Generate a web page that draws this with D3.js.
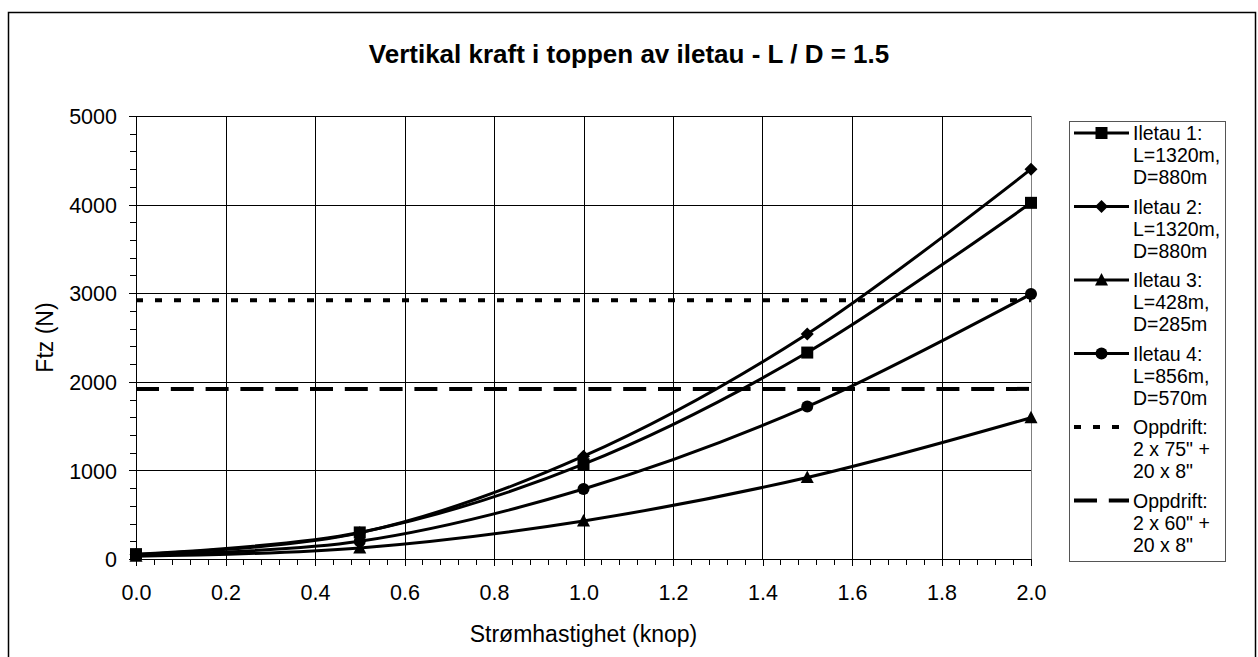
<!DOCTYPE html>
<html><head><meta charset="utf-8">
<script src="https://cdn.jsdelivr.net/npm/d3@7"></script>
<style>
html,body{margin:0;padding:0;background:#fff;}
svg{display:block;font-family:"Liberation Sans",Arial,sans-serif;}
</style></head>
<body>
<svg id="chart" width="1258" height="657"></svg>
<script>
const titleText = "Vertikal kraft i toppen av iletau - L / D = 1.5";
const xTitle = "Strømhastighet (knop)";
const yTitle = "Ftz (N)";
const xValues = [0, 0.5, 1.0, 1.5, 2.0];
const iletau1 = [55, 300, 1070, 2330, 4020];
const iletau2 = [50, 295, 1160, 2540, 4400];
const iletau3 = [30, 125, 430, 920, 1595];
const iletau4 = [45, 200, 790, 1720, 2990];
const oppdriftX = [0, 2.0];
const oppdrift1 = [2920, 2920];
const oppdrift2 = [1920, 1920];
const xTickValues = [0, 0.2, 0.4, 0.6, 0.8, 1.0, 1.2, 1.4, 1.6, 1.8, 2.0];
const yTickValues = [0, 1000, 2000, 3000, 4000, 5000];
const legendLabels = [
  ["Iletau 1:", "L=1320m,", "D=880m"],
  ["Iletau 2:", "L=1320m,", "D=880m"],
  ["Iletau 3:", "L=428m,", "D=285m"],
  ["Iletau 4:", "L=856m,", "D=570m"],
  ["Oppdrift:", "2 x 75\" +", "20 x 8\""],
  ["Oppdrift:", "2 x 60\" +", "20 x 8\""]
];

const svg = d3.select("#chart");
const plot = {left: 136, right: 1031, top: 116, bottom: 559};
const x = d3.scaleLinear().domain([0, 2]).range([plot.left, plot.right]);
const y = d3.scaleLinear().domain([0, 5000]).range([plot.bottom, plot.top]);

// outer frame
svg.append("rect").attr("x", 8.5).attr("y", 12.5).attr("width", 1247).attr("height", 700)
  .attr("fill", "none").attr("stroke", "#000").attr("stroke-width", 1.5);

// title
svg.append("text").attr("x", 629).attr("y", 63).attr("text-anchor", "middle")
  .attr("font-size", 26).attr("font-weight", "bold").text(titleText);

// gridlines
const g = svg.append("g").attr("shape-rendering", "crispEdges");
g.selectAll(".vg").data(xTickValues.slice(1)).join("line")
  .attr("x1", d => Math.round(x(d)) + 0.5).attr("x2", d => Math.round(x(d)) + 0.5)
  .attr("y1", plot.top).attr("y2", plot.bottom).attr("stroke", "#000").attr("stroke-width", 1);
g.selectAll(".hg").data(yTickValues.slice(1)).join("line")
  .attr("x1", plot.left).attr("x2", plot.right)
  .attr("y1", d => Math.round(y(d)) + 0.5).attr("y2", d => Math.round(y(d)) + 0.5)
  .attr("stroke", "#000").attr("stroke-width", 1);
g.append("line").attr("x1", plot.right + 0.5).attr("x2", plot.right + 0.5)
  .attr("y1", plot.top).attr("y2", plot.bottom).attr("stroke", "#808080");

// axes
const xAxisMinor = d3.axisBottom(x).tickValues(d3.range(0, 51).map(i => i * 0.04)).tickSize(6).tickFormat("");
const xAxis = d3.axisBottom(x).tickValues(xTickValues).tickSize(7).tickPadding(19).tickFormat(d3.format(".1f"));
const yAxisMinor = d3.axisLeft(y).tickValues(d3.range(0, 26).map(i => i * 200)).tickSize(6).tickFormat("");
const yAxis = d3.axisLeft(y).tickValues(yTickValues).tickSize(7).tickPadding(12).tickFormat(d3.format("d"));

function styleAxis(sel) {
  sel.attr("shape-rendering", "crispEdges");
  sel.select(".domain").attr("stroke", "#000");
  sel.selectAll(".tick line").attr("stroke", "#000");
  sel.selectAll("text").attr("font-family", "Liberation Sans, Arial, sans-serif")
    .attr("font-size", 21.5).attr("fill", "#000");
}
svg.append("g").attr("transform", `translate(0,${plot.bottom})`).call(xAxisMinor).call(styleAxis);
svg.append("g").attr("transform", `translate(0,${plot.bottom})`).call(xAxis).call(styleAxis);
svg.append("g").attr("transform", `translate(${plot.left},0)`).call(yAxisMinor).call(styleAxis);
svg.append("g").attr("transform", `translate(${plot.left},0)`).call(yAxis).call(styleAxis)
  .selectAll("text").attr("dy", "0.36em");

// axis titles
svg.append("text").attr("x", (plot.left + plot.right) / 2).attr("y", 642)
  .attr("text-anchor", "middle").attr("font-size", 23).text(xTitle);
svg.append("text").attr("transform", `translate(53,${(plot.top + plot.bottom) / 2}) rotate(-90)`)
  .attr("text-anchor", "middle").attr("font-size", 23).text(yTitle);

// reference lines
const straight = d3.line().x(d => x(d[0])).y(d => y(d[1]));
const refs = [
  {vals: oppdrift1, dash: "7,12"},
  {vals: oppdrift2, dash: "23,11.8"}
];
refs.forEach(r => {
  svg.append("path").datum(oppdriftX.map((v, i) => [v, r.vals[i]]))
    .attr("d", straight).attr("fill", "none").attr("stroke", "#000")
    .attr("stroke-width", 4).attr("stroke-dasharray", r.dash);
});

// marker shapes
function markerPath(type) {
  if (type === "square") return "M-6,-6H6V6H-6Z";
  if (type === "diamond") return "M0,-6.5L6.5,0L0,6.5L-6.5,0Z";
  if (type === "triangle") return "M0,-7L6.5,5.5H-6.5Z";
  if (type === "circle") return d3.symbol(d3.symbolCircle, Math.PI * 36)();
}

const series = [
  {vals: iletau1, marker: "square"},
  {vals: iletau2, marker: "diamond"},
  {vals: iletau3, marker: "triangle"},
  {vals: iletau4, marker: "circle"}
];
const smooth = d3.line().x(d => x(d[0])).y(d => y(d[1])).curve(d3.curveCardinal.tension(0));
series.forEach(s => {
  const pts = xValues.map((v, i) => [v, s.vals[i]]);
  svg.append("path").datum(pts).attr("d", smooth).attr("fill", "none")
    .attr("stroke", "#000").attr("stroke-width", 3);
  svg.append("g").selectAll("path").data(pts).join("path")
    .attr("transform", d => `translate(${x(d[0])},${y(d[1])})`)
    .attr("d", markerPath(s.marker)).attr("fill", "#000");
});

// legend
const lg = svg.append("g");
const legTop = 121, legBottom = 561, legLeft = 1069, legRight = 1225;
lg.append("rect").attr("x", legLeft + 0.5).attr("y", legTop + 0.5)
  .attr("width", legRight - legLeft).attr("height", legBottom - legTop)
  .attr("fill", "#fff").attr("stroke", "#555").attr("stroke-width", 1);
const entryStyles = [
  {marker: "square"}, {marker: "diamond"}, {marker: "triangle"}, {marker: "circle"},
  {dash: "7,12"}, {dash: "23,11.8"}
];
const firstBaseline = 140, entryStep = 73.5, lineStep = 22;
legendLabels.forEach((lines, i) => {
  const base = firstBaseline + i * entryStep;
  const cy = base - 7;
  const st = entryStyles[i];
  lg.append("line").attr("x1", 1074).attr("x2", 1129).attr("y1", cy).attr("y2", cy)
    .attr("stroke", "#000").attr("stroke-width", st.dash ? 4 : 3)
    .attr("stroke-dasharray", st.dash || null);
  if (st.marker) {
    lg.append("path").attr("transform", `translate(1101.5,${cy})`)
      .attr("d", markerPath(st.marker)).attr("fill", "#000");
  }
  lines.forEach((t, j) => {
    lg.append("text").attr("x", 1133).attr("y", base + j * lineStep)
      .attr("font-size", 19.5).text(t);
  });
});
</script>
</body></html>
